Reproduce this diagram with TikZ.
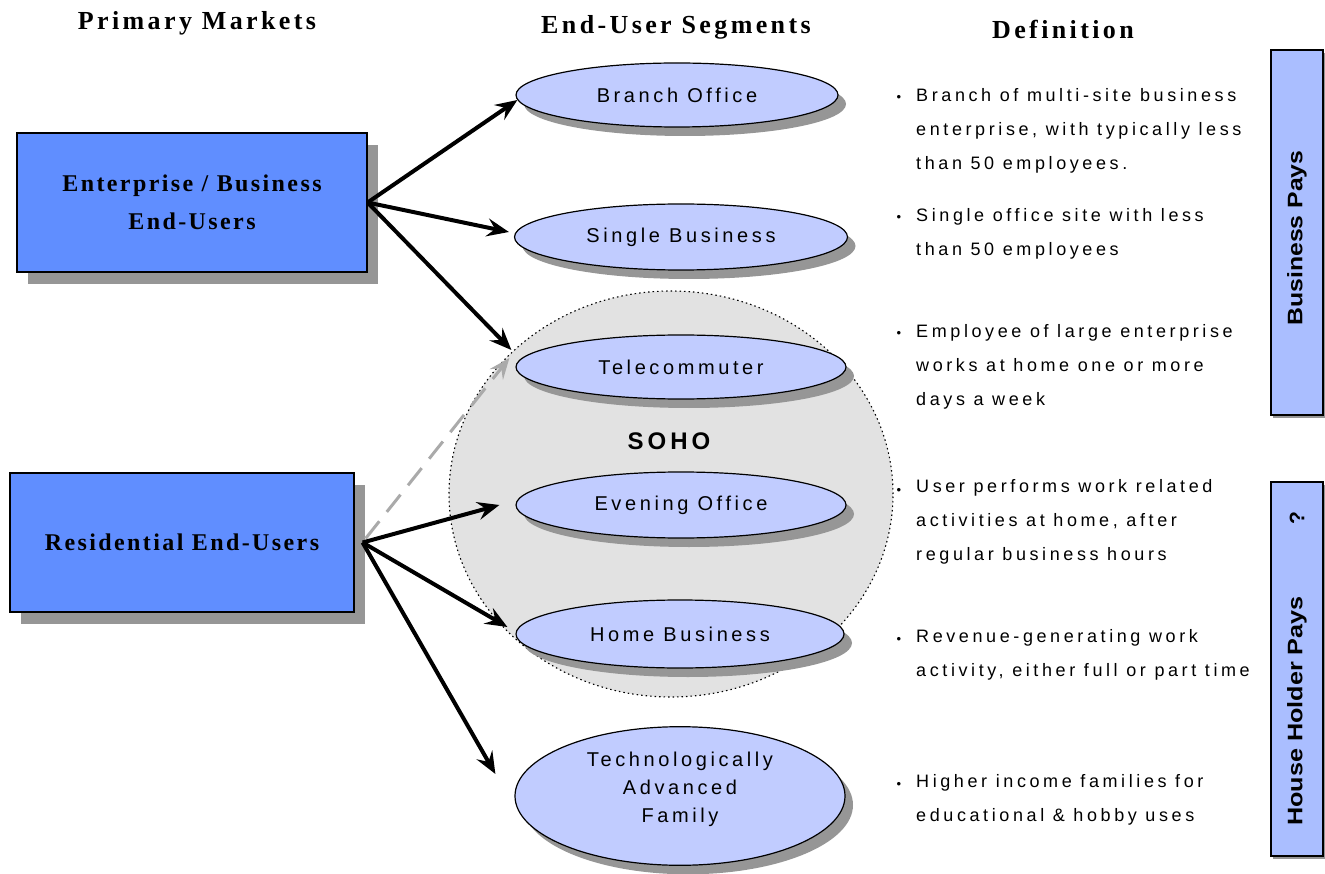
\documentclass[tikz,border=0pt]{standalone}
\usepackage{fontspec}
\setmainfont{Liberation Serif}
\setsansfont{Liberation Sans}
\newfontfamily\headfont[LetterSpace=13]{Liberation Serif}
\newfontfamily\boxfont[LetterSpace=10]{Liberation Serif}
\newfontfamily\segfont[LetterSpace=18]{Liberation Sans}
\newfontfamily\deffont[LetterSpace=20]{Liberation Sans}
\newfontfamily\paysfont{Liberation Sans}
\usetikzlibrary{shapes.geometric,shadows,arrows.meta}

\definecolor{marketblue}{RGB}{96,142,255}
\definecolor{segblue}{RGB}{193,204,255}
\definecolor{paneblue}{RGB}{170,190,255}
\definecolor{shadowgray}{RGB}{150,150,150}
\definecolor{sohogray}{RGB}{226,226,226}
\definecolor{dashgray}{RGB}{170,170,170}

\begin{document}
\begin{tikzpicture}[x=1pt,y=-1pt,
  header/.style={font=\headfont\bfseries\fontsize{26pt}{30pt}\selectfont},
  market/.style={draw=black, line width=1.2pt, fill=marketblue,
    minimum height=139pt, inner sep=0pt, align=center,
    font=\boxfont\bfseries\fontsize{24pt}{38pt}\selectfont,
    general shadow={fill=shadowgray, draw=none, shadow xshift=11pt, shadow yshift=-12pt}},
  segment/.style={ellipse, draw=black, line width=1.2pt, fill=segblue,
    inner sep=0pt, align=center,
    font=\segfont\fontsize{20pt}{28pt}\selectfont,
    general shadow={fill=shadowgray, draw=none, shadow xshift=8pt, shadow yshift=-9pt}},
  deftext/.style={anchor=west, align=left, inner sep=0pt,
    font=\deffont\fontsize{18pt}{34pt}\selectfont},
  bulletmark/.style={inner sep=0pt, font=\paysfont\fontsize{13pt}{13pt}\selectfont},
  pane/.style={draw=black, line width=1.2pt, fill=paneblue, minimum width=52pt,
    inner sep=0pt,
    general shadow={fill=shadowgray, draw=none, shadow xshift=2pt, shadow yshift=-3pt}},
  panetext/.style={rotate=90, inner sep=0pt, font=\paysfont\bfseries\fontsize{21pt}{24pt}\selectfont},
  link/.style={line width=4pt, -{Stealth[length=22pt,width=18pt,inset=8pt]}},
  ghostlink/.style={line width=3pt, draw=dashgray, dash pattern=on 22pt off 12pt,
    -{Stealth[length=21pt,width=17pt,inset=8pt,fill=dashgray]}}
]
\useasboundingbox (0,0) rectangle (1325,874);

% column headings
\node[header] (hmarkets) at (197,23) {Primary Markets};
\node[header] (hsegments) at (676,27) {End-User Segments};
\node[header] (hdef) at (1063,29) {Definition};

% SOHO grouping region
\node[ellipse, draw=black, line width=1.1pt, dash pattern=on 1.5pt off 3pt,
  fill=sohogray, minimum width=444pt, minimum height=406pt, inner sep=0pt]
  (soho) at (671,494) {};
\node[font=\paysfont\bfseries\fontsize{24pt}{24pt}\selectfont, inner sep=0pt]
  (sohol) at (669,441) {S\,O\,H\,O};

% primary markets
\node[market, minimum width=350pt] (ent) at (192,202.5) {Enterprise / Business\\End-Users};
\node[market, minimum width=344pt] (res) at (182,542.5) {Residential End-Users};

% end-user segments
\node[segment, minimum width=322pt, minimum height=64pt] (bo) at (677,95) {Branch Office};
\node[segment, minimum width=333pt, minimum height=66pt] (sb) at (681,237) {Single Business};
\node[segment, minimum width=330pt, minimum height=64pt] (tc) at (681,367) {Telecommuter};
\node[segment, minimum width=330pt, minimum height=66pt] (eo) at (681,505) {Evening Office};
\node[segment, minimum width=328pt, minimum height=68pt] (hb) at (680,634) {Home Business};
\node[segment, minimum width=330pt, minimum height=130pt] (tf) at (680,796)
  {\raisebox{0pt}[\height][\dimexpr\depth+14pt\relax]{\begin{tabular}{@{}c@{}}Technologically\\Advanced\\Family\end{tabular}}};

% connectors
\draw[ghostlink] ([xshift=11pt,yshift=4pt]res.east) -- ([xshift=-6pt,yshift=9pt]tc.west);
\draw[link] (ent.east) -- ([xshift=2pt,yshift=-5pt]bo.west);
\draw[link] (ent.east) -- ([xshift=-5pt,yshift=5pt]sb.west);
\draw[link] (ent.east) -- ([xshift=-4pt,yshift=17pt]tc.west);
\draw[link] ([xshift=8pt]res.east) -- ([xshift=-16pt]eo.west);
\draw[link] ([xshift=8pt]res.east) -- ([xshift=-8pt,yshift=7pt]hb.west);
\draw[link] ([xshift=8pt]res.east) -- ([xshift=-19pt,yshift=22pt]tf.west);

% definitions
\node[bulletmark] (b1) at (899,98) {•};
\node[deftext] (d1) at (916,131) {Branch of multi-site business\\enterprise, with typically less\\than 50 employees.};
\node[bulletmark] (b2) at (899,218) {•};
\node[deftext] (d2) at (916,234) {Single office site with less\\than 50 employees};
\node[bulletmark] (b3) at (899,334) {•};
\node[deftext] (d3) at (916,367) {Employee of large enterprise\\works at home one or more\\days a week};
\node[bulletmark] (b4) at (899,491) {•};
\node[deftext] (d4) at (916,522) {User performs work related\\activities at home, after\\regular business hours};
\node[bulletmark] (b5) at (899,640) {•};
\node[deftext] (d5) at (916,655) {Revenue-generating work\\activity, either full or part time};
\node[bulletmark] (b6) at (899,785) {•};
\node[deftext] (d6) at (916,800) {Higher income families for\\educational \& hobby uses};

% who pays
\node[pane, minimum height=365pt] (bpays) at (1297,232.5) {};
\node[panetext] (bpayst) at (1297,238) {\scalebox{1.18}[1]{Business Pays}};
\node[pane, minimum height=374pt] (hpays) at (1297,669) {};
\node[panetext] (hq) at (1297,518) {?};
\node[panetext] (hpayst) at (1297,711) {\scalebox{1.2}[1]{House Holder Pays}};
\end{tikzpicture}
\end{document}
